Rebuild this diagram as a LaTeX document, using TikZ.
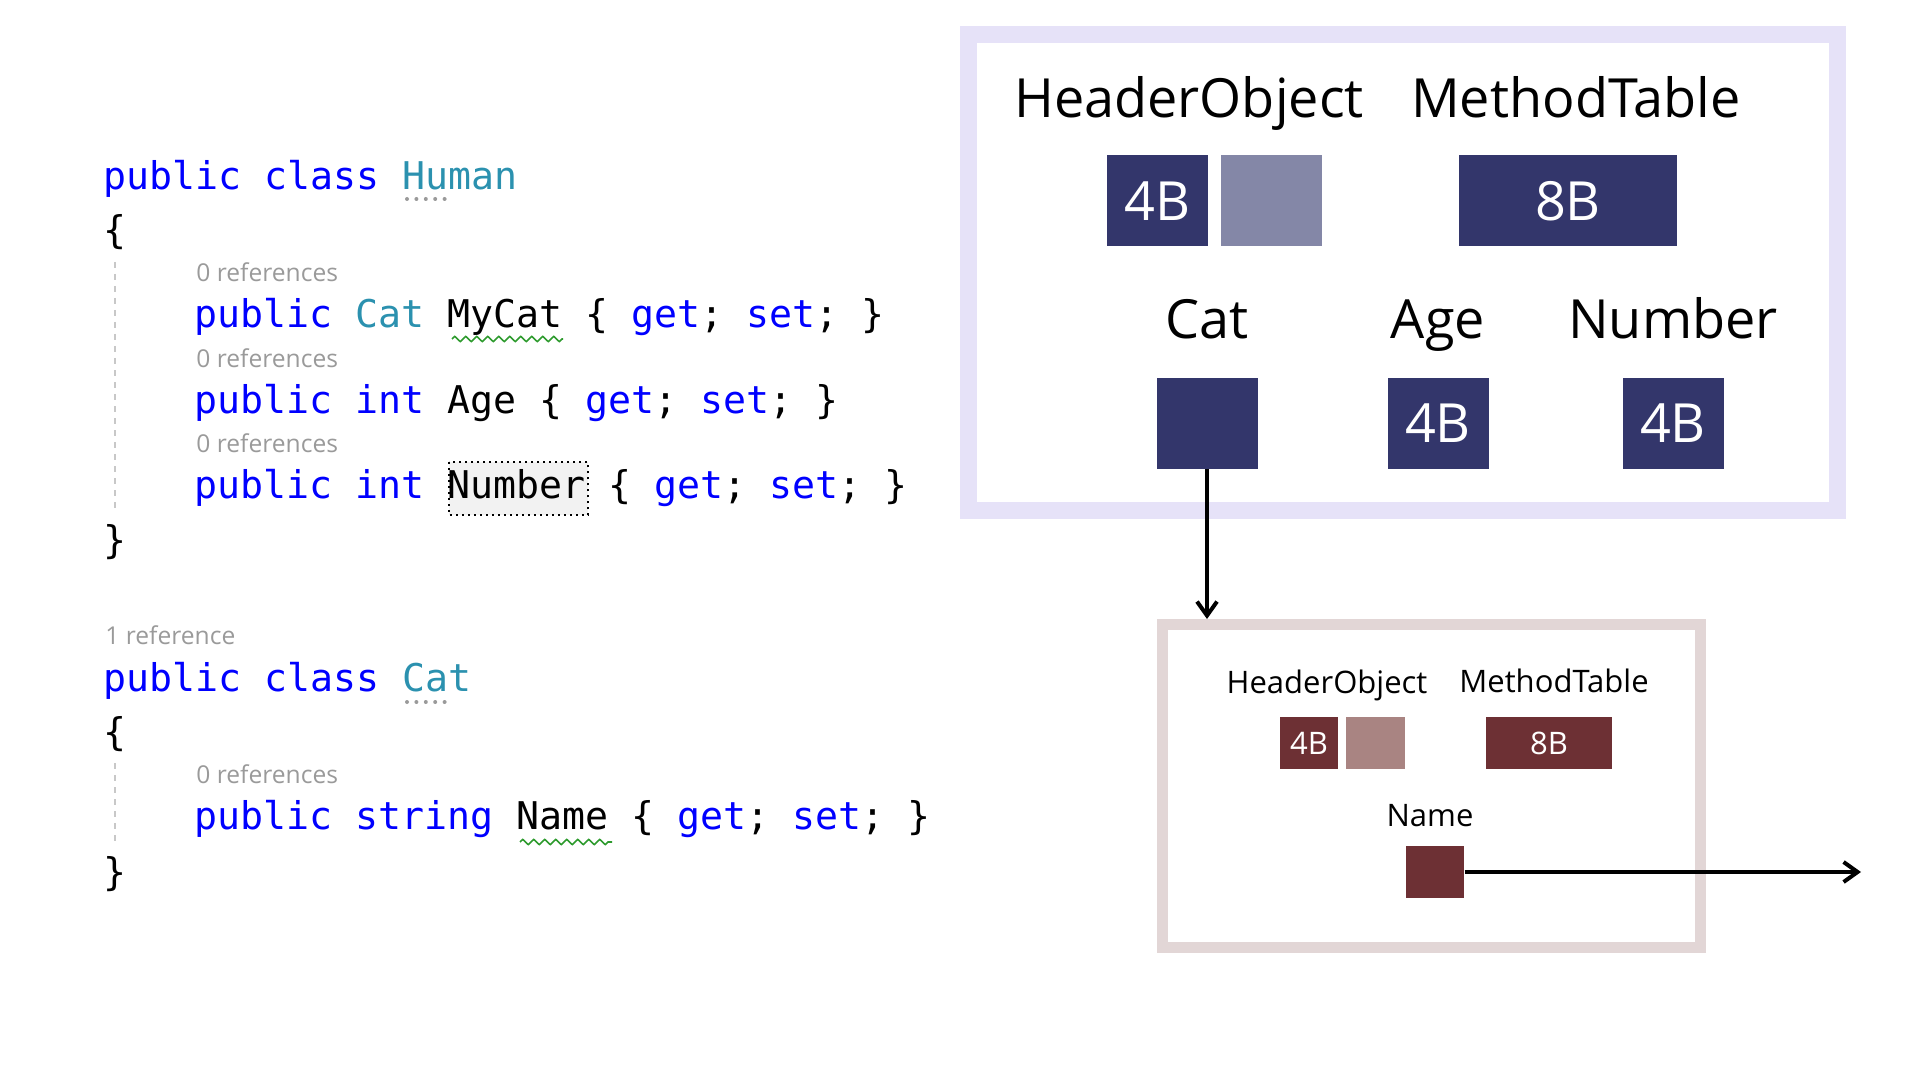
\documentclass[tikz,border=0pt]{standalone}
\usepackage{fontspec}
\setsansfont{Open Sans}
\setmonofont{DejaVu Sans Mono}
\usetikzlibrary{positioning,calc,arrows.meta,decorations.pathmorphing}
\definecolor{navy}{HTML}{33366B}
\definecolor{navylight}{HTML}{8487A7}
\definecolor{lavender}{HTML}{E6E2F8}
\definecolor{maroon}{HTML}{6D3034}
\definecolor{maroonlight}{HTML}{A98482}
\definecolor{rosegrey}{HTML}{E2D6D6}
\definecolor{kwblue}{HTML}{0000FF}
\definecolor{typeteal}{HTML}{2B91AF}
\definecolor{refgrey}{HTML}{9A9A9A}
\definecolor{guidegrey}{HTML}{C8C8C8}
\definecolor{hlgrey}{HTML}{F2F2F2}
\definecolor{squiggreen}{HTML}{2E9B2E}
\newcommand{\kw}[1]{\textcolor{kwblue}{#1}}
\newcommand{\ty}[1]{\textcolor{typeteal}{#1}}

\begin{document}
\begin{tikzpicture}[x=0.5pt, y=-0.5pt,
  font=\sffamily,
  codeline/.style={anchor=base west, inner sep=0pt, font=\ttfamily\fontsize{19.1}{22}\selectfont},
  refs/.style={anchor=base west, inner sep=0pt, text=refgrey, font=\sffamily\fontsize{12.3}{14}\selectfont},
  bigbox/.style={fill=navy, text=white, inner sep=0pt, minimum width=50.5pt, minimum height=45.5pt, font=\sffamily\fontsize{27}{32}\selectfont},
  biglbl/.style={anchor=base, inner sep=0pt, font=\sffamily\fontsize{27}{32}\selectfont},
  smallbox/.style={fill=maroon, text=white, inner sep=0pt, minimum width=29.2pt, minimum height=26pt, font=\sffamily\fontsize{15.5}{18}\selectfont},
  smalllbl/.style={anchor=base, inner sep=0pt, font=\sffamily\fontsize{15.5}{18}\selectfont},
  ptr/.style={-{Straight Barb[length=7pt,width=10pt]}, line width=2pt},
  guide/.style={draw=guidegrey, dashed, line width=0.75pt},
  squig/.style={draw=squiggreen, line width=0.8pt, decorate, decoration={zigzag, segment length=5.5pt, amplitude=1.3pt}},
  refdots/.style={draw=refgrey, line width=2pt, line cap=round, dash pattern=on 0pt off 4.7pt}]
    \useasboundingbox (0,0) rectangle (1920,1080);
    %
    \node[codeline] (hclass) at (103.5,190) {\kw{public class} \ty{Human}};
    \node[codeline] (hopen) at (103.5,244) {\{};
    \node[refs] (r1) at (196,282) {0 references};
    \node[codeline] (mycat) at (194.5,328) {\kw{public} \ty{Cat} MyCat \{ \kw{get}; \kw{set}; \}};
    \node[refs] (r2) at (196,367) {0 references};
    \node[codeline] (agep) at (194.5,413) {\kw{public} \kw{int} Age \{ \kw{get}; \kw{set}; \}};
    \node[refs] (r3) at (196,452) {0 references};
    \draw[dotted, line width=1pt, fill=hlgrey] (449,462) rectangle (588,515);
    \node[codeline] (nump) at (194.5,498) {\kw{public} \kw{int} Number \{ \kw{get}; \kw{set}; \}};
    \node[codeline] (hclose) at (103.5,553) {\}};
    \draw[guide] (115,262) -- (115,513);
    \draw[refdots] (407,199) -- (446,199);
    \draw[squig] (452,339) -- (563,339);
    %
    \node[refs] (r4) at (105,644) {1 reference};
    \node[codeline] (cclass) at (103.5,691) {\kw{public class} \ty{Cat}};
    \node[codeline] (copen) at (103.5,745) {\{};
    \node[refs] (r5) at (196,783) {0 references};
    \node[codeline] (namep) at (194.5,829) {\kw{public} \kw{string} Name \{ \kw{get}; \kw{set}; \}};
    \node[codeline] (cclose) at (103.5,885) {\}};
    \draw[guide] (115,763) -- (115,845);
    \draw[refdots] (407,702) -- (446,702);
    \draw[squig] (520,842) -- (612,842);
    %
    \node[draw=lavender, line width=8.5pt, inner sep=0pt, minimum width=434.25pt, minimum height=238pt] (human) at (1402.75,272.5) {};
    \node[bigbox] (hdr) at (1157.5,201) {4B};
    \node[bigbox, fill=navylight] (hdrpad) at (1271,201) {};
    \node[bigbox, minimum width=109pt] (mt) at (1568,201) {8B};
    \node[biglbl] (hdr_lbl) at (1189,118) {HeaderObject};
    \node[biglbl, above=19pt of mt, anchor=base, xshift=4pt] (mt_lbl) {MethodTable};
    \node[bigbox] (catref) at (1207,423.5) {};
    \node[bigbox] (age) at (1438,423.5) {4B};
    \node[bigbox] (num) at (1673,423.5) {4B};
    \node[biglbl, above=19.5pt of catref, anchor=base] (catref_lbl) {Cat};
    \node[biglbl, above=19.5pt of age, anchor=base] (age_lbl) {Age};
    \node[biglbl, above=19.5pt of num, anchor=base] (num_lbl) {Number};
    %
    \node[draw=rosegrey, line width=5.5pt, inner sep=0pt, minimum width=268.6pt, minimum height=161.5pt] (catobj) at (1431.5,786) {};
    \node[smallbox] (shdr) at (1309,743) {4B};
    \node[smallbox, fill=maroonlight] (shdrpad) at (1375.6,743) {};
    \node[smallbox, minimum width=63pt] (smt) at (1549,743) {8B};
    \node[smalllbl] (shdr_lbl) at (1327,693) {HeaderObject};
    \node[smalllbl, above=12pt of smt, anchor=base, xshift=2.5pt] (smt_lbl) {MethodTable};
    \node[smallbox] (name) at (1435,872) {};
    \node[smalllbl, above=9.5pt of name, anchor=base, xshift=-2.5pt] (name_lbl) {Name};
    \coordinate (strheap) at (1861,872);
    %
    \draw[ptr] (catref.south) -- (catref.south |- catobj.north);
    \draw[ptr] (name.east) -- (strheap);
\end{tikzpicture}
\end{document}
